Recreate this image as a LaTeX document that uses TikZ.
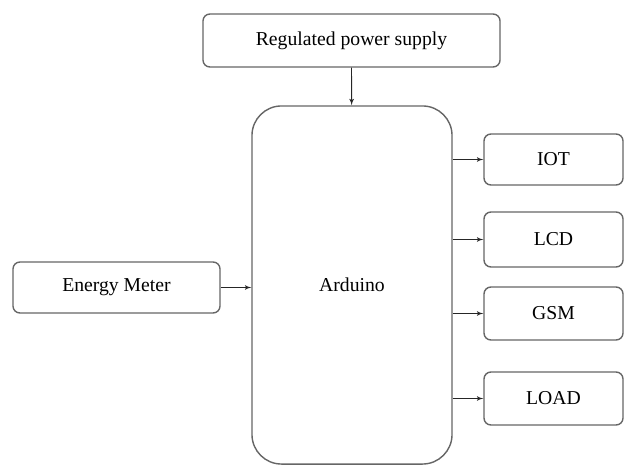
\documentclass[tikz,border=0pt]{standalone}
\usepackage{fontspec}
\setmainfont{Liberation Serif}
\usepackage{tikz}
\usetikzlibrary{arrows,positioning}

\begin{document}
\begin{tikzpicture}[
            x=0.025cm, y=-0.025cm,
            font=\fontsize{14}{16}\selectfont,
            block/.style={rectangle, draw=gray!80!black, line width=1pt, rounded corners=5pt, inner sep=0pt, minimum height=1.3cm, fill=white},
            side/.style={block, minimum width=3.475cm},
            line/.style={draw, -latex', line width=0.6pt, black!85}
        ]
        \useasboundingbox (0,0) rectangle (625,466);

        % Main Nodes
        \node [block, minimum width=7.425cm, minimum height=1.325cm] (power) at (351.5,40.5) {Regulated power supply};
        \node [block, rounded corners=21pt, minimum width=5cm, minimum height=8.95cm] (arduino) at (352,285) {Arduino};
        \node [block, minimum width=5.175cm, minimum height=1.275cm] (meter) at (116.5,287.5) {Energy Meter};

        % Outputs
        \node [side, minimum height=1.275cm] (iot) at (553.5,159.5) {IOT};
        \node [side, minimum height=1.375cm] (lcd) at (553.5,239.5) {LCD};
        \node [side, minimum height=1.325cm] (gsm) at (553.5,313.5) {GSM};
        \node [side, minimum height=1.325cm] (load) at (553.5,398.5) {LOAD};

        % Edges
        \path [line] (power) -- (arduino);
        \path [line] (meter.east) -- (meter.east -| arduino.west);
        \foreach \n in {iot,lcd,gsm,load}
            \path [line] (arduino.east |- \n.west) -- (\n.west);

    \end{tikzpicture}
\end{document}
